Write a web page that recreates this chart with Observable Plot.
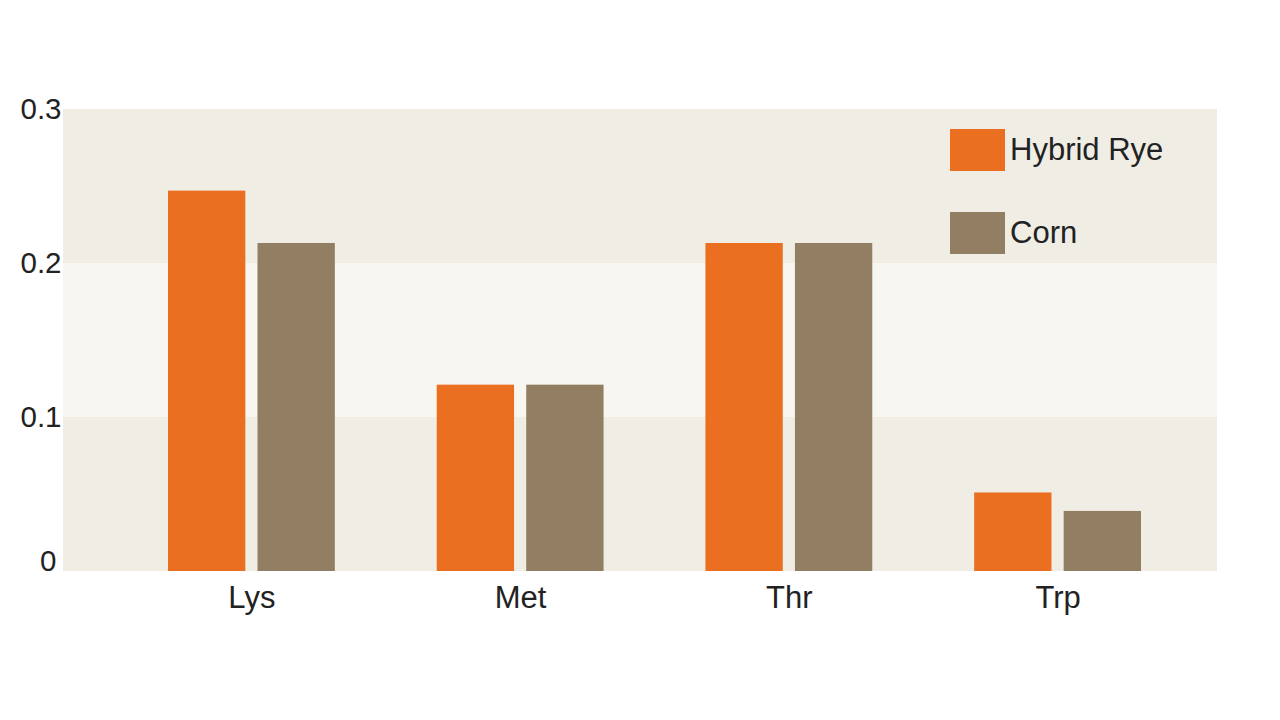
<!DOCTYPE html>
<html>
<head>
<meta charset="utf-8">
<script src="https://cdn.jsdelivr.net/npm/d3@7"></script>
<script src="https://cdn.jsdelivr.net/npm/@observablehq/plot@0.6"></script>
<style>
  html, body { margin: 0; padding: 0; background: #ffffff; }
  #wrap { position: relative; width: 1280px; height: 720px; font-family: "Liberation Sans", Arial, Helvetica, sans-serif; }
  #legend { position: absolute; left: 950px; top: 129px; color: #222; font-size: 31px; }
  .item { display: flex; align-items: center; height: 42px; margin-bottom: 41px; }
  .sw { width: 55px; height: 42px; margin-right: 5px; }
</style>
</head>
<body>
<div id="wrap"></div>
<script>
// Data
const categories = ["Lys", "Met", "Thr", "Trp"];
const series = ["Hybrid Rye", "Corn"];
const hybridRye = [0.247, 0.121, 0.213, 0.051];
const corn = [0.213, 0.121, 0.213, 0.039];
const yTicks = [0, 0.1, 0.2, 0.3];
const bandBounds = [[0, 0.1], [0.1, 0.2], [0.2, 0.3]];

// Styles
const colors = {"Hybrid Rye": "#eb6f20", "Corn": "#927e62"};
const bandFills = ["#f0ede5", "#f7f6f0", "#f0ede5"];

const rows = categories.map((c, i) => ({category: c, rye: hybridRye[i], corn: corn[i]}));
const bands = bandBounds.map((b, i) => ({y1: b[0], y2: b[1], fill: bandFills[i]}));

const barW = 77.5;
const bandW = 167;

const chart = Plot.plot({
  width: 1280,
  height: 720,
  marginTop: 109,
  marginBottom: 149,
  marginLeft: 63,
  marginRight: 63,
  style: {fontFamily: "'Liberation Sans', Arial, Helvetica, sans-serif", color: "#222", background: "transparent"},
  x: {type: "band", domain: categories, range: [168, 1141], paddingInner: 1 - bandW / 269, paddingOuter: 0, round: false},
  y: {domain: [0, 0.3], range: [571, 109]},
  marks: [
    Plot.barY(bands, {y1: "y1", y2: "y2", fill: d => d.fill}),
    Plot.barY(rows, {x: "category", y: "rye", fill: colors["Hybrid Rye"], insetRight: bandW - barW}),
    Plot.barY(rows, {x: "category", y: "corn", fill: colors["Corn"], insetLeft: bandW - barW}),
    Plot.axisY({ticks: yTicks.filter(t => t > 0), tickSize: 0, tickPadding: 2, fontSize: 29.5, fill: "#222",
      tickFormat: d => d.toFixed(1), label: null}),
    Plot.axisY({ticks: yTicks.filter(t => t === 0), tickSize: 0, tickPadding: 7, dy: -10, fontSize: 29.5, fill: "#222",
      tickFormat: d => "0", label: null}),
    Plot.axisX({tickSize: 0, tickPadding: 14, fontSize: 31, fill: "#222", label: null})
  ]
});

const wrap = document.getElementById("wrap");
wrap.appendChild(chart);

const legend = document.createElement("div");
legend.id = "legend";
series.forEach(s => {
  const item = document.createElement("div");
  item.className = "item";
  const sw = document.createElement("div");
  sw.className = "sw";
  sw.style.background = colors[s];
  const lab = document.createElement("span");
  lab.textContent = s;
  item.appendChild(sw);
  item.appendChild(lab);
  legend.appendChild(item);
});
wrap.appendChild(legend);
</script>
</body>
</html>
